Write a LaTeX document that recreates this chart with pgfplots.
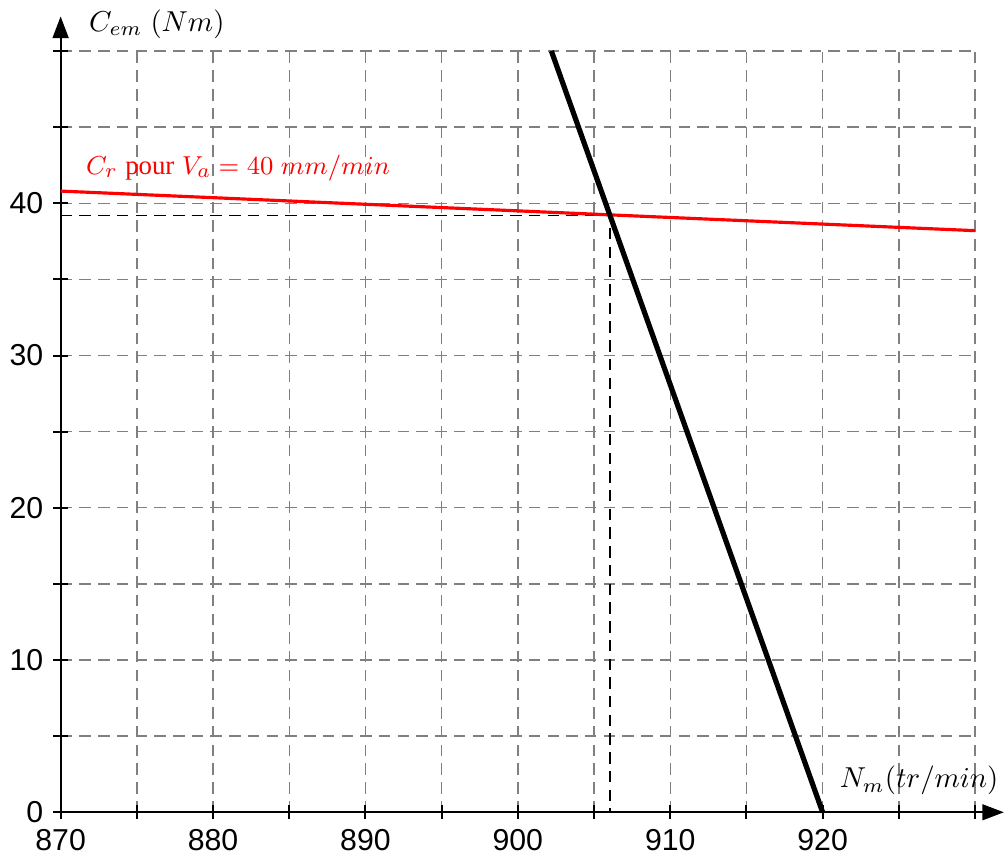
\documentclass[border=0pt]{standalone}
\usepackage{fontspec}
\setmainfont{Liberation Sans}
\newfontfamily\pourfont{Liberation Serif}
\usepackage{pgfplots}
\pgfplotsset{compat=1.18}
\usetikzlibrary{arrows.meta}

\begin{document}
\begin{tikzpicture}
\begin{axis}[
  x=5.29pt, y=5.285pt,
  xmin=870, xmax=930, ymin=0, ymax=50,
  axis lines=left,
  clip=false,
  x axis line style={-{Triangle[length=7.5pt,width=5.5pt]}, shorten >=-10pt, line width=0.7pt},
  y axis line style={-{Triangle[length=7.5pt,width=5.5pt]}, shorten >=-12pt, line width=0.7pt},
  xtick={870,875,...,930},
  xticklabels={870,,880,,890,,900,,910,,920,,},
  ytick={0,5,...,50},
  yticklabels={0,,10,,20,,30,,40,,},
  tick align=center,
  major tick length=5pt,
  tick style={black, line width=0.7pt},
  grid=major,
  major grid style={gray, line width=0.5pt, dash pattern=on 4pt off 2.5pt},
  ticklabel style={font=\fontsize{10.5}{12}\selectfont},
  /pgf/number format/assume math mode=true,
]
% operating point guides
\addplot[black, line width=0.6pt, dash pattern=on 4pt off 2.5pt]
  coordinates {(870,39.2) (906.05,39.2) (906.05,0)};
% load torque line
\addplot[red, line width=1.1pt] coordinates {(870,40.8) (930,38.2)};
% motor characteristic
\addplot[black, line width=1.8pt] coordinates {(902.2,50) (920,0)};

\node[anchor=base west, red, font=\fontsize{9.3}{11}\selectfont] at (axis cs:871,41.9)
  {$C_r$ {\pourfont pour} $V_a = 40\ mm/min$};
\node[anchor=base west] at (axis cs:871.2,51.3) {$C_{em}\ (Nm)$};
\node[anchor=base east] at (axis cs:932.2,1.6) {$N_m(tr/min)$};
\end{axis}
\end{tikzpicture}
\end{document}
